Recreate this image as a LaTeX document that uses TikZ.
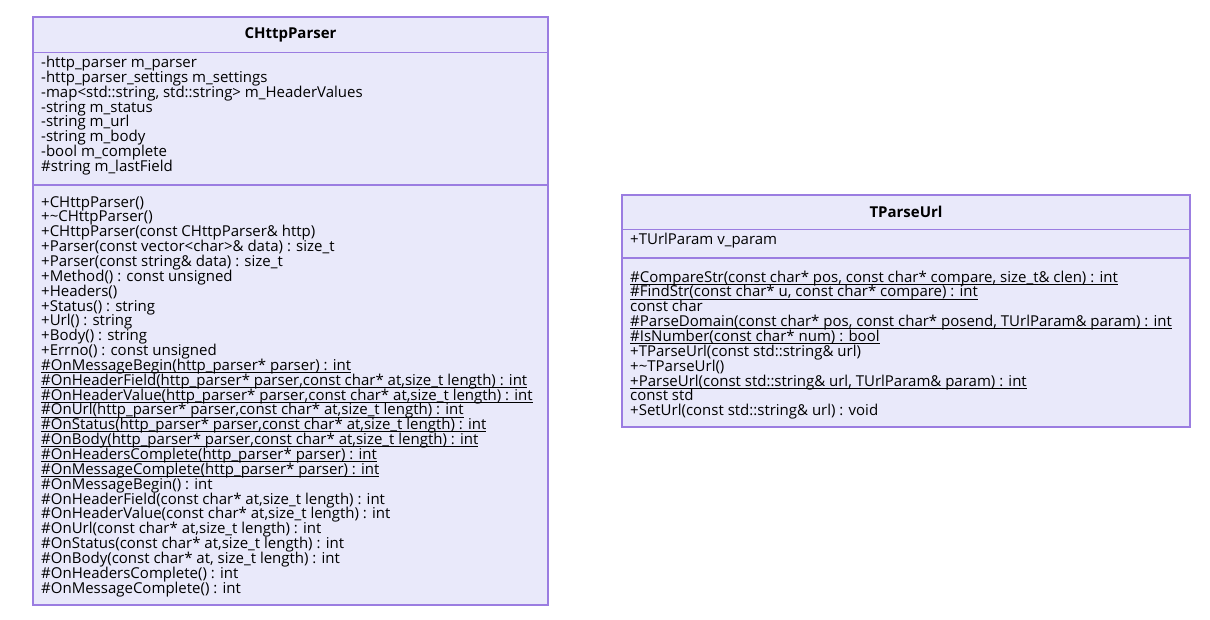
\documentclass[tikz,border=0pt]{standalone}
\usepackage{fontspec}
\setmainfont{Open Sans}
\usepackage{tikz}

\definecolor{umlfill}{RGB}{233,233,250}
\definecolor{umlline}{RGB}{155,125,225}
\setlength{\lineskiplimit}{-20pt}
\newsavebox\undlbox
\newcommand{\undl}[1]{\sbox\undlbox{#1}\rlap{\rule[-2.4pt]{\wd\undlbox}{0.8pt}}\usebox\undlbox}

\begin{document}
\begin{tikzpicture}
    [x=1pt,y=-1pt,
     classpart/.style={draw=umlline, fill=umlfill, line width=1.4pt, rectangle, inner sep=0pt, outer sep=0pt, anchor=north west},
     members/.style={align=left, inner sep=0pt, anchor=north west, font=\fontsize{15}{14.85}\selectfont},
     classname/.style={font=\fontsize{15}{14.85}\selectfont\bfseries}]
    \useasboundingbox (0,0) rectangle (1210,620);

    % CHttpParser
    \node[classpart, minimum width=515pt, minimum height=35.5pt] (chttp) at (33,17) {};
    \node[classpart, minimum width=515pt, minimum height=132.5pt] (chttp-attr) at (chttp.south west) {};
    \node[classpart, minimum width=515pt, minimum height=420pt] (chttp-ops) at (chttp-attr.south west) {};
    \node[classname] (chttp-title) at (chttp.center) {CHttpParser};
    \node[members] (chttp-attr-txt) at ([xshift=8pt,yshift=-3.5pt]chttp-attr.north west) {%
      -http\_parser m\_parser\\
      -http\_parser\_settings m\_settings\\
      -map<std::string, std::string> m\_HeaderValues\\
      -string m\_status\\
      -string m\_url\\
      -string m\_body\\
      -bool m\_complete\\
      \#string m\_lastField};
    \node[members] (chttp-ops-txt) at ([xshift=8pt,yshift=-11pt]chttp-ops.north west) {%
      +CHttpParser()\\
      +\textasciitilde CHttpParser()\\
      +CHttpParser(const CHttpParser\& http)\\
      +Parser(const vector<char>\& data) : size\_t\\
      +Parser(const string\& data) : size\_t\\
      +Method() : const unsigned\\
      +Headers()\\
      +Status() : string\\
      +Url() : string\\
      +Body() : string\\
      +Errno() : const unsigned\\
      \undl{\#OnMessageBegin(http\_parser* parser) : int}\\
      \undl{\#OnHeaderField(http\_parser* parser,const char* at,size\_t length) : int}\\
      \undl{\#OnHeaderValue(http\_parser* parser,const char* at,size\_t length) : int}\\
      \undl{\#OnUrl(http\_parser* parser,const char* at,size\_t length) : int}\\
      \undl{\#OnStatus(http\_parser* parser,const char* at,size\_t length) : int}\\
      \undl{\#OnBody(http\_parser* parser,const char* at,size\_t length) : int}\\
      \undl{\#OnHeadersComplete(http\_parser* parser) : int}\\
      \undl{\#OnMessageComplete(http\_parser* parser) : int}\\
      \#OnMessageBegin() : int\\
      \#OnHeaderField(const char* at,size\_t length) : int\\
      \#OnHeaderValue(const char* at,size\_t length) : int\\
      \#OnUrl(const char* at,size\_t length) : int\\
      \#OnStatus(const char* at,size\_t length) : int\\
      \#OnBody(const char* at, size\_t length) : int\\
      \#OnHeadersComplete() : int\\
      \#OnMessageComplete() : int};

    % TParseUrl
    \node[classpart, minimum width=568pt, minimum height=34.5pt] (parseurl) at (622,195) {};
    \node[classpart, minimum width=568pt, minimum height=28.5pt] (parseurl-attr) at (parseurl.south west) {};
    \node[classpart, minimum width=568pt, minimum height=169pt] (parseurl-ops) at (parseurl-attr.south west) {};
    \node[classname] (parseurl-title) at (parseurl.center) {TParseUrl};
    \node[members] (parseurl-attr-txt) at ([xshift=8pt,yshift=-3.5pt]parseurl-attr.north west) {%
      +TUrlParam v\_param};
    \node[members] (parseurl-ops-txt) at ([xshift=8pt,yshift=-12.5pt]parseurl-ops.north west) {%
      \undl{\#CompareStr(const char* pos, const char* compare, size\_t\& clen) : int}\\
      \undl{\#FindStr(const char* u, const char* compare) : int}\\
      const char\\
      \undl{\#ParseDomain(const char* pos, const char* posend, TUrlParam\& param) : int}\\
      \undl{\#IsNumber(const char* num) : bool}\\
      +TParseUrl(const std::string\& url)\\
      +\textasciitilde TParseUrl()\\
      \undl{+ParseUrl(const std::string\& url, TUrlParam\& param) : int}\\
      const std\\
      +SetUrl(const std::string\& url) : void};
  \end{tikzpicture}
\end{document}
